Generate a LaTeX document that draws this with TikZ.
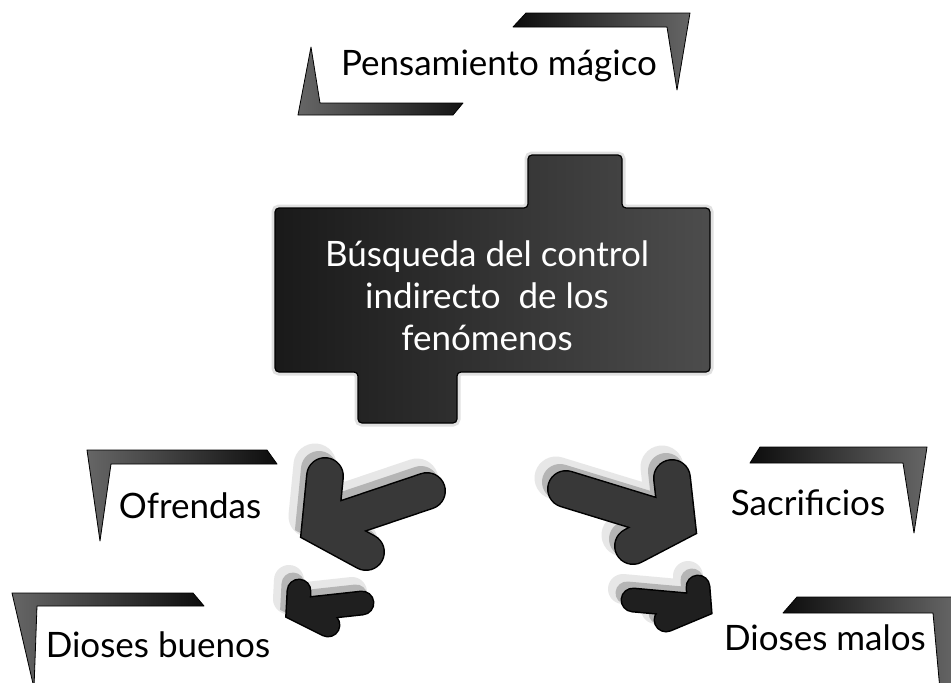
\documentclass[tikz,border=0pt]{standalone}
\usepackage{fontspec}
\setmainfont{Lato}
\usetikzlibrary{positioning}

\newcommand{\bentarrow}[6]{%
    \draw[black!30, opacity=.3, line width=#5+8pt, line cap=round, line join=round, shift={(-10,-11)}] (#1) -- (#2) -- (#3) (#2) -- (#4);
    \draw[black!45, opacity=.55, line width=#5+1pt, line cap=round, line join=miter, shift={(-6,-7)}] (#1) -- (#2) -- (#3) (#2) -- (#4);
    \draw[black, line width=#5+3pt, line cap=round, line join=miter] (#1) -- (#2) -- (#3) (#2) -- (#4);
    \draw[#6, line width=#5, line cap=round, line join=miter] (#1) -- (#2) -- (#3) (#2) -- (#4);
}

\begin{document}
\begin{tikzpicture}
    [
    x=1pt, y=-1pt,
    every node/.style={font=\fontsize{35}{42}\selectfont, inner sep=0pt},
    leaf text/.style={anchor=base, text=black},
    core text/.style={align=center, text=white},
    bracket/.style={draw=black, line width=0.8pt, line join=round},
    block/.style={draw=black, line width=1.2pt, rounded corners=4pt, left color=black!90, right color=black!70},
    glow/.style={draw=black!30, line width=7pt, opacity=.4, rounded corners=4pt},
    ]

    \useasboundingbox[fill=white] (0,0) rectangle (951,683);

    \path[bracket, left color=black!95, right color=black!60] (513,27) -- (526,13) -- (690,13) -- (677,90) -- (667,27) -- cycle;
    \path[bracket, left color=black!60, right color=black!92] (311,47) -- (298,115) -- (453,115) -- (463,103) -- (320,103) -- cycle;
    \node[leaf text] (txt_pensamiento) at (499,75) {Pensamiento mágico};

    \draw[glow] (275,208) -- (528,208) -- (528,155) -- (622,155) -- (622,208) -- (710,208) -- (710,372) -- (457,372) -- (457,423) -- (358,423) -- (358,372) -- (275,372) -- cycle;
    \path[block] (275,208) -- (528,208) -- (528,155) -- (622,155) -- (622,208) -- (710,208) -- (710,372) -- (457,372) -- (457,423) -- (358,423) -- (358,372) -- (275,372) -- cycle;
    \node[core text] (txt_busqueda) at (487,296) {Búsqueda del control\\indirecto~ de los\\fenómenos};

    \bentarrow{325,476}{320,527}{366,552}{427,491}{35pt}{black!78}
    \bentarrow{672,478}{677,523}{633,546}{566,489}{35pt}{black!78}
    \bentarrow{299,591}{298,610}{328,625}{362,603}{22pt}{black!88}
    \bentarrow{698,587}{699.5,606}{666,620}{633,600}{22pt}{black!88}

    \path[bracket, left color=black!60, right color=black!95] (87,450) -- (267,450) -- (277,464) -- (111,464) -- (100,541) -- cycle;
    \node[leaf text] (txt_ofrendas) at (190,518) {Ofrendas};

    \path[bracket, left color=black!95, right color=black!60] (750,463) -- (760,447) -- (927,447) -- (914,533) -- (903,463) -- cycle;
    \node[leaf text] (txt_sacrificios) at (808,515) {Sacrificios};

    \path[bracket, left color=black!60, right color=black!95] (12,593) -- (193,593) -- (204,606) -- (37,606) -- (34,688) -- cycle;
    \node[leaf text] (txt_buenos) at (158,657) {Dioses buenos};

    \path[bracket, left color=black!95, right color=black!60] (783,613) -- (797,597) -- (956,597) -- (956,690) -- (940,690) -- (933,613) -- cycle;
    \node[leaf text] (txt_malos) at (825,650) {Dioses malos};
\end{tikzpicture}
\end{document}
